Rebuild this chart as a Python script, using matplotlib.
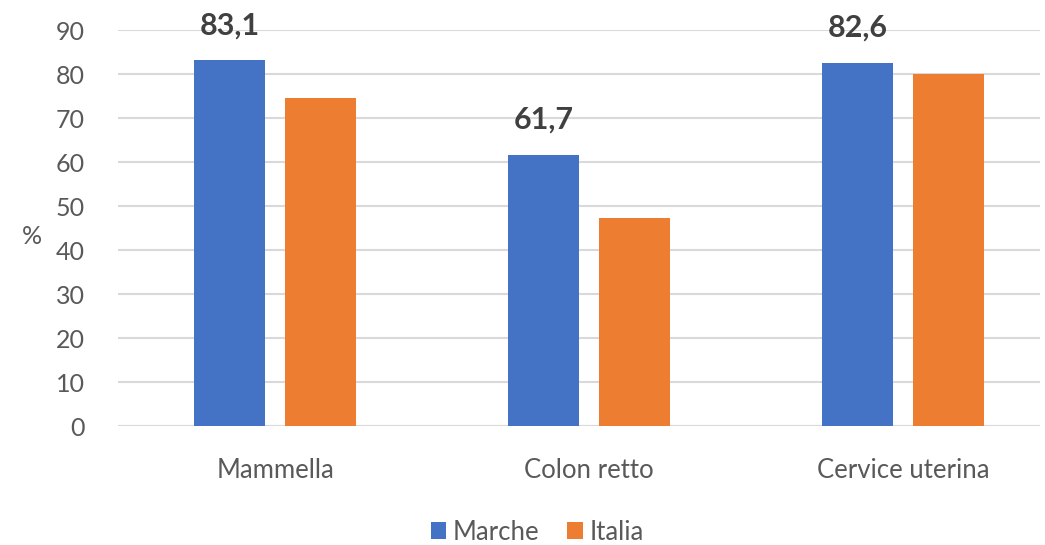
import numpy as np
import matplotlib.pyplot as plt

categories = ['Mammella', 'Colon retto', 'Cervice uterina']
marche = [83.1, 61.7, 82.6]
italia = [74.6, 47.3, 79.9]
marche_labels = ['83,1', '61,7', '82,6']

plt.rcParams['font.family'] = ['Lato', 'DejaVu Sans']

fig = plt.figure(figsize=(10.45, 5.45), dpi=100)
ax = fig.add_axes([118 / 1045, 1 - 426 / 545, (1040 - 118) / 1045, 396 / 545])

x = np.arange(len(categories))
w = 0.226
off = 0.145
bars_m = ax.bar(x - off, marche, w, color='#4472C4', label='Marche', zorder=3)
bars_i = ax.bar(x + off, italia, w, color='#ED7D31', label='Italia', zorder=3)

for b, lab in zip(bars_m, marche_labels):
    ax.text(b.get_x() + b.get_width() / 2, b.get_height() + 4.8, lab,
            ha='center', va='bottom', fontsize=22, fontweight='bold', color='#404040')

ax.set_ylim(0, 90)
ax.set_xlim(-0.5, 2.436)
ax.set_yticks(range(0, 91, 10))
ax.set_xticks(x)
ax.set_xticklabels(categories, fontsize=18.5)
ax.yaxis.grid(True, color='#D9D9D9', linewidth=1.5, zorder=0)
ax.tick_params(axis='y', length=0, labelsize=18, colors='#595959', pad=24)
ax.tick_params(axis='x', length=0, colors='#595959', pad=23)
for s in ax.spines.values():
    s.set_visible(False)
ax.axhline(0, color='#D9D9D9', linewidth=1.5, zorder=1)

fig.text(32 / 1045, 1 - 237 / 545, '%', fontsize=18, color='#595959', ha='center', va='center')

fig.legend(handles=[bars_m, bars_i], labels=['Marche', 'Italia'], loc='center',
           bbox_to_anchor=(537 / 1045, 1 - 532 / 545), ncol=2, frameon=False,
           fontsize=18.5, labelcolor='#595959', handlelength=0.6, handleheight=0.6,
           handletextpad=0.25, columnspacing=1.1)

plt.savefig('out.png', dpi=100)
